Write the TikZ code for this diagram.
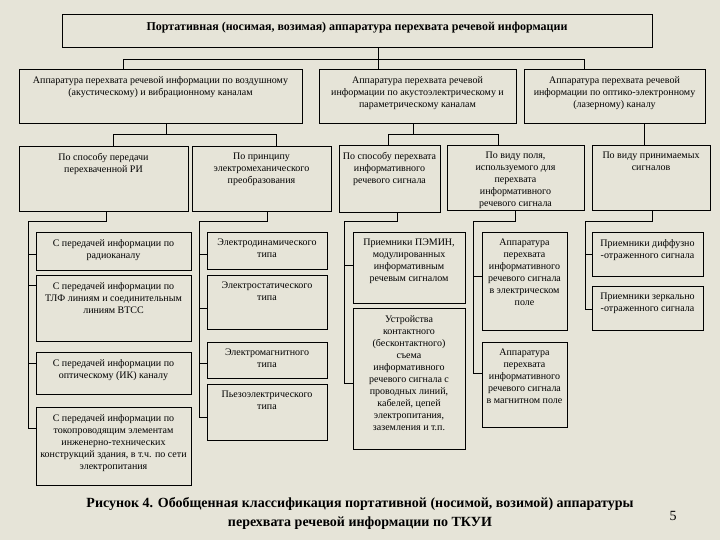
\documentclass[tikz,border=0pt]{standalone}
\usepackage{fontspec}
\setmainfont{Liberation Serif}
\usetikzlibrary{fit}
\definecolor{paper}{RGB}{230,228,216}
\newcommand\bx[6]{\node[boxst, fit={(#2,#3)(#4,#5)}] (#1) {};
  \node[txt, anchor=north] (#1t) at ([yshift=-7.5pt]#1.north) {#6};}
\begin{document}
\begin{tikzpicture}[x=1pt,y=-1pt,
  boxst/.style={draw=black, line width=0.8pt, inner sep=0pt},
  txt/.style={inner sep=0pt, align=center, font=\fontsize{10}{12}\selectfont},
  wire/.style={draw=black, line width=0.8pt}]
\fill[paper] (0,0) rectangle (720,540);
\useasboundingbox (0,0) rectangle (720,540);

% title box
\node[boxst, fit={(62,14)(652,47)}] (T) {};
\node[inner sep=0pt, font=\fontsize{12}{14}\selectfont\bfseries] (Tt) at ([yshift=3pt]T.center)
  {Портативная (носимая, возимая) аппаратура перехвата речевой информации};

% level 1
\bx{A}{19}{69}{302}{123}{Аппаратура перехвата речевой информации по воздушному\\(акустическому) и вибрационному каналам}
\bx{B}{319}{69}{516}{123}{Аппаратура перехвата речевой\\информации по акустоэлектрическому и\\параметрическому каналам}
\bx{C}{524}{69}{705}{123}{Аппаратура перехвата речевой\\информации по оптико-электронному\\(лазерному) каналу}

% level 2
\bx{A1}{19}{146}{188}{211}{По способу передачи\\перехваченной РИ}
\bx{A2}{192}{146}{331}{211}{По принципу\\электромеханического\\преобразования}
\bx{B1}{339}{145}{440}{212}{По способу перехвата\\информативного\\речевого сигнала}
\bx{B2}{447}{145}{584}{210}{По виду поля,\\используемого для\\перехвата\\информативного\\речевого сигнала}
\bx{C1}{592}{145}{710}{210}{По виду принимаемых\\сигналов}

% level 3
\bx{A1a}{36}{232}{191}{270}{С передачей информации по\\радиоканалу}
\bx{A1b}{36}{275}{191}{341}{С передачей информации по\\ТЛФ линиям и соединительным\\линиям ВТСС}
\bx{A1c}{36}{352}{191}{394}{С передачей информации по\\оптическому (ИК) каналу}
\bx{A1d}{36}{407}{191}{485}{С передачей информации по\\токопроводящим элементам\\инженерно-технических\\конструкций здания, в т.ч. по сети\\электропитания}

\bx{A2a}{207}{232}{327}{269}{Электродинамического\\типа}
\bx{A2b}{207}{275}{327}{329}{Электростатического\\типа}
\bx{A2c}{207}{342}{327}{378}{Электромагнитного\\типа}
\bx{A2d}{207}{384}{327}{440}{Пьезоэлектрического\\типа}

\bx{B1a}{353}{232}{465}{303}{Приемники ПЭМИН,\\модулированных\\информативным\\речевым сигналом}
\bx{B1b}{353}{308}{465}{449}{Устройства\\контактного\\(бесконтактного)\\съема\\информативного\\речевого сигнала с\\проводных линий,\\кабелей, цепей\\электропитания,\\заземления и т.п.}

\bx{B2a}{482}{232}{567}{330}{Аппаратура\\перехвата\\информативного\\речевого сигнала\\в электрическом\\поле}
\bx{B2b}{482}{342}{567}{427}{Аппаратура\\перехвата\\информативного\\речевого сигнала\\в магнитном поле}

\bx{C1a}{592}{232}{703}{276}{Приемники диффузно\\-отраженного сигнала}
\bx{C1b}{592}{286}{703}{330}{Приемники зеркально\\-отраженного сигнала}

% connectors level 0 -> 1
\coordinate (h1l) at (123,59);
\coordinate (h1m) at (378,59);
\coordinate (h1r) at (584,59);
\draw[wire] (h1m |- T.south) -- (h1m |- B.north);
\draw[wire] (h1l |- A.north) |- (h1r) -- (h1r |- C.north);

% level 1 -> 2
\coordinate (ha) at (166,134);
\coordinate (ha1) at (113,134);
\coordinate (ha2) at (276,134);
\draw[wire] (ha |- A.south) -- (ha);
\draw[wire] (ha1 |- A1.north) |- (ha2) -- (ha2 |- A2.north);
\coordinate (hb) at (413,134);
\coordinate (hb1) at (388,134);
\coordinate (hb2) at (498,134);
\draw[wire] (hb |- B.south) -- (hb);
\draw[wire] (hb1 |- B1.north) |- (hb2) -- (hb2 |- B2.north);
\coordinate (hc) at (644,134);
\draw[wire] (hc |- C.south) -- (hc |- C1.north);

% level 2 -> 3 buses
\coordinate (ba) at (106,221);
\coordinate (bax) at (28,221);
\draw[wire] (ba |- A1.south) -- (ba) -- (bax) -- (28,428);
\draw[wire] (28,254) -- (A1a.west |- 0,254);
\draw[wire] (28,285) -- (A1b.west |- 0,285);
\draw[wire] (28,363) -- (A1c.west |- 0,363);
\draw[wire] (28,428) -- (A1d.west |- 0,428);

\coordinate (bb) at (267,221);
\coordinate (bbx) at (199,221);
\draw[wire] (bb |- A2.south) -- (bb) -- (bbx) -- (199,417);
\draw[wire] (199,254) -- (A2a.west |- 0,254);
\draw[wire] (199,308) -- (A2b.west |- 0,308);
\draw[wire] (199,363) -- (A2c.west |- 0,363);
\draw[wire] (199,417) -- (A2d.west |- 0,417);

\coordinate (bc) at (397,221);
\coordinate (bcx) at (344,221);
\draw[wire] (bc |- B1.south) -- (bc) -- (bcx) -- (344,383);
\draw[wire] (344,265) -- (B1a.west |- 0,265);
\draw[wire] (344,383) -- (B1b.west |- 0,383);

\coordinate (bd) at (515,221);
\coordinate (bdx) at (473,221);
\draw[wire] (bd |- B2.south) -- (bd) -- (bdx) -- (473,373);
\draw[wire] (473,276) -- (B2a.west |- 0,276);
\draw[wire] (473,373) -- (B2b.west |- 0,373);

\coordinate (be) at (652,221);
\coordinate (bex) at (585,221);
\draw[wire] (be |- C1.south) -- (be) -- (bex) -- (585,309);
\draw[wire] (585,254) -- (C1a.west |- 0,254);
\draw[wire] (585,309) -- (C1b.west |- 0,309);

% caption
\node[inner sep=0pt, align=center, font=\fontsize{14}{19}\selectfont\bfseries] (cap) at (360,513)
  {Рисунок 4. Обобщенная классификация портативной (носимой, возимой) аппаратуры\\перехвата речевой информации по ТКУИ};
\node[inner sep=0pt, font=\fontsize{14}{16}\selectfont] (pg) at (673,516) {5};
\end{tikzpicture}
\end{document}
